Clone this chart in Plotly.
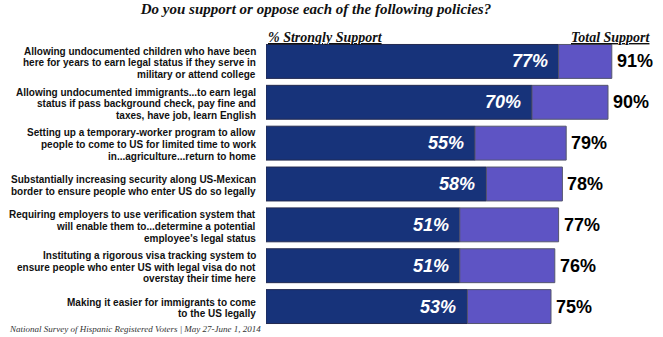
import plotly.graph_objects as go

title_text = "Do you support or oppose each of the following policies?"
categories = [
    "Allowing undocumented children who have been<br>here for years to earn legal status if they serve in<br>military or attend college",
    "Allowing undocumented immigrants...to earn legal<br>status if pass background check, pay fine and<br>taxes, have job, learn English",
    "Setting up a temporary-worker program to allow<br>people to come to US for limited time to work<br>in...agriculture...return to home",
    "Substantially increasing security along US-Mexican<br>border to ensure people who enter US do so legally",
    "Requiring employers to use verification system that<br>will enable them to...determine a potential<br>employee's legal status",
    "Instituting a rigorous visa tracking system to<br>ensure people who enter US with legal visa do not<br>overstay their time here",
    "Making it easier for immigrants to come<br>to the US legally",
]
strongly_support = [77, 70, 55, 58, 51, 51, 53]
total_support = [91, 90, 79, 78, 77, 76, 75]
header_left = "% Strongly Support"
header_right = "Total Support"
footer_text = "National Survey of Hispanic Registered Voters | May 27-June 1, 2014"

W, H = 663, 337
ML, MR, MT, MB = 266, 17, 41, 10
PW, PH = W - ML - MR, H - MT - MB

def px_x(px):
    return (px - ML) / PW

def px_y(py):
    return (H - MB - py) / PH

DARK = "#17337a"
LIGHT = "#5e54c4"
SANS = "Liberation Sans, Arial, sans-serif"
SERIF = "Liberation Serif, Times New Roman, serif"

fig = go.Figure()
fig.add_trace(go.Bar(
    y=categories, x=strongly_support, orientation="h",
    marker=dict(color=DARK, line=dict(color="#232a50", width=1)),
    hoverinfo="skip", showlegend=False,
))
fig.add_trace(go.Bar(
    y=categories, x=[t - s for t, s in zip(total_support, strongly_support)],
    base=strongly_support, orientation="h",
    marker=dict(color=LIGHT, line=dict(color="#55566e", width=1)),
    hoverinfo="skip", showlegend=False,
))

ann = []
for cat, s, t in zip(categories, strongly_support, total_support):
    ann.append(dict(x=s, y=cat, xref="x", yref="y", text=f"{s}%", showarrow=False,
                    xanchor="right", yanchor="middle", xshift=-9,
                    font=dict(family=SANS, size=18, color="white", weight="bold", style="italic")))
    ann.append(dict(x=t, y=cat, xref="x", yref="y", text=f"{t}%", showarrow=False,
                    xanchor="left", yanchor="middle", xshift=3,
                    font=dict(family=SANS, size=18, color="black", weight="bold")))
    lines = cat.split("<br>")
    n = len(lines)
    for i, ln in enumerate(lines):
        ann.append(dict(x=0, y=cat, xref="x", yref="y", text=ln, showarrow=False,
                        xanchor="right", yanchor="middle", xshift=-8,
                        yshift=-(i - (n - 1) / 2) * 11.7 - 1.5,
                        font=dict(family=SANS, size=10, color="#111111", weight="bold")))

ann.append(dict(x=px_x(266), y=px_y(37), xref="paper", yref="paper",
                text=f"<u>{header_left}</u>", showarrow=False, xanchor="left", yanchor="middle",
                font=dict(family=SERIF, size=14, color="#111111", weight="bold", style="italic")))
ann.append(dict(x=px_x(653), y=px_y(37), xref="paper", yref="paper",
                text=f"<u>{header_right}</u>", showarrow=False, xanchor="right", yanchor="middle",
                font=dict(family=SERIF, size=14, color="#111111", weight="bold", style="italic")))
ann.append(dict(x=px_x(7), y=px_y(329), xref="paper", yref="paper",
                text=footer_text, showarrow=False, xanchor="left", yanchor="middle",
                font=dict(family=SERIF, size=9, color="#333333", style="italic")))

fig.update_layout(
    width=W, height=H,
    margin=dict(l=ML, r=MR, t=MT, b=MB),
    paper_bgcolor="white", plot_bgcolor="white",
    barmode="overlay", bargap=0.17,
    title=dict(text=title_text, x=316 / W, xanchor="center", xref="container",
               y=1 - 9 / H, yanchor="middle", yref="container",
               font=dict(family=SERIF, size=15, color="#111111", weight="bold", style="italic")),
    xaxis=dict(range=[0, 100], visible=False, fixedrange=True),
    yaxis=dict(autorange=False, range=[6.5, -0.5], showticklabels=False,
               showgrid=False, zeroline=False, showline=False, fixedrange=True),
    annotations=ann,
)

fig.write_html("out.html", config={"displayModeBar": False})
